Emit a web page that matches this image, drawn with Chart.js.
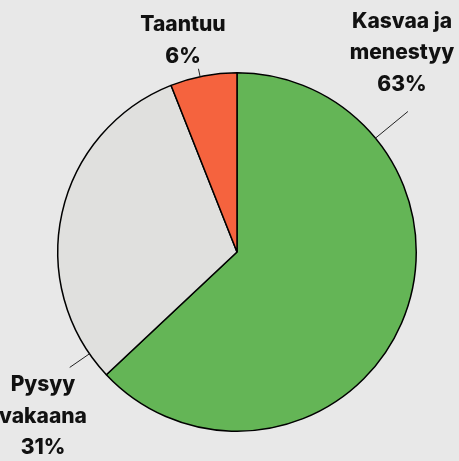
<!DOCTYPE html>
<html>
<head>
<meta charset="utf-8">
<script src="https://cdn.jsdelivr.net/npm/chart.js@4"></script>
<style>
html,body{margin:0;padding:0;background:#e8e8e8;}
canvas{display:block;}
</style>
</head>
<body>
<canvas id="c" width="459" height="461"></canvas>
<script>
const categories = ["Kasvaa ja menestyy", "Pysyy vakaana", "Taantuu"];
const values = [63, 31, 6];
const labelLines = [["Kasvaa ja", "menestyy", "63%"], ["Pysyy", "vakaana", "31%"], ["Taantuu", "6%"]];
const colors = ["#64b556", "#e0e0de", "#f5633e"];

// layout for labels: anchor fraction along arc, leader length, text centre x and first baseline
const labelLayout = [
  {frac: 0.223, len: 42, x: 402, y: 27.5},
  {frac: 0.077, len: 24, x: 43, y: 391},
  {frac: 0.45, len: 8, x: 183, y: 31}
];

const labelPlugin = {
  id: 'outLabels',
  afterDatasetsDraw(chart) {
    const ctx = chart.ctx;
    const meta = chart.getDatasetMeta(0);
    ctx.save();
    meta.data.forEach((arc, i) => {
      const L = labelLayout[i];
      const a = arc.startAngle + (arc.endAngle - arc.startAngle) * L.frac;
      const r = arc.outerRadius;
      const x0 = arc.x + Math.cos(a) * r, y0 = arc.y + Math.sin(a) * r;
      const x1 = arc.x + Math.cos(a) * (r + L.len), y1 = arc.y + Math.sin(a) * (r + L.len);
      ctx.strokeStyle = '#222';
      ctx.lineWidth = 1;
      ctx.beginPath(); ctx.moveTo(x0, y0); ctx.lineTo(x1, y1); ctx.stroke();
      ctx.fillStyle = '#111';
      ctx.font = '800 21px Inter, "Open Sans", sans-serif';
      ctx.textAlign = 'center';
      ctx.textBaseline = 'alphabetic';
      labelLines[i].forEach((t, k) => ctx.fillText(t, L.x, L.y + k * 31.5));
    });
    ctx.restore();
  }
};

new Chart(document.getElementById('c'), {
  type: 'pie',
  data: {
    labels: categories,
    datasets: [{
      data: values,
      backgroundColor: colors,
      borderColor: '#000',
      borderWidth: 1.5
    }]
  },
  options: {
    responsive: false,
    animation: false,
    layout: {padding: {left: 57, right: 42, top: 72, bottom: 29}},
    plugins: {legend: {display: false}, tooltip: {enabled: false}}
  },
  plugins: [labelPlugin]
});
</script>
</body>
</html>
